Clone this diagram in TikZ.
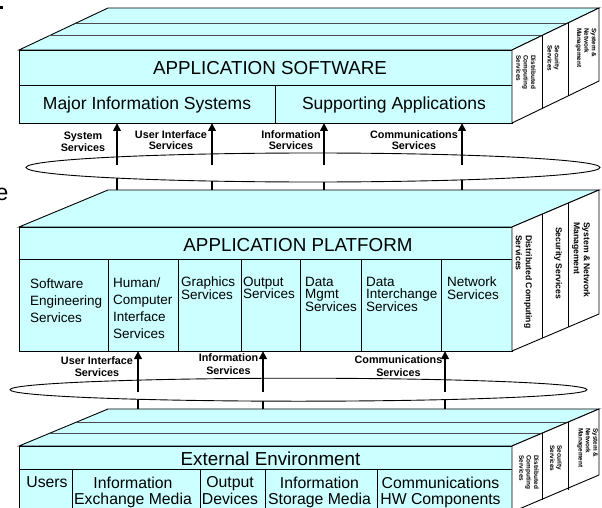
\documentclass[tikz,border=0pt]{standalone}
\usepackage{fontspec}
\setmainfont{Liberation Sans}
\usetikzlibrary{arrows.meta}
\definecolor{cy}{HTML}{CCFFFF}
\newcommand\fs[2]{\fontsize{#1}{#2}\selectfont\lineskiplimit=-20pt\relax}
\begin{document}
\begin{tikzpicture}[x=1pt,y=-1pt,
  face/.style={draw=black, fill=cy, line width=0.9pt},
  sidep/.style={draw=black, fill=white, line width=0.9pt},
  ln/.style={draw=black, line width=0.9pt},
  layer/.style={draw=black!70, line width=0.9pt},
  arr/.style={line width=2.6pt, -{Triangle[width=7.5pt,length=8pt]}},
  lbl/.style={font=\bfseries\fs{10.8}{11.3}, align=center, inner sep=0pt, anchor=north},
  lblb/.style={font=\bfseries\fs{10.8}{12.8}, align=center, inner sep=0pt, anchor=north},
  ttl/.style={font=\fs{18.8}{20}, inner sep=0pt},
  rowt/.style={font=\fs{17.5}{20}, inner sep=0pt, anchor=base},
  cell/.style={font=\fs{13.5}{16.7}, align=left, inner sep=0pt, anchor=north west},
  cellt/.style={font=\fs{13.5}{12.3}, align=left, inner sep=0pt, anchor=north west},
  ext/.style={font=\fs{15.8}{16.5}, align=center, inner sep=0pt, anchor=north},
  sidetxt/.style={font=\bfseries\fs{6.4}{7.3}, align=left, inner sep=0pt, rotate=-90, anchor=west},
  sidetxtm/.style={font=\bfseries\fs{8.6}{10}, align=left, inner sep=0pt, rotate=-90, anchor=west}
]
\useasboundingbox (0,0) rectangle (602,508);

% stray fragments at the left edge
\fill (0,6) rectangle (3.3,9.3);
\node[font=\fs{23}{25}, inner sep=0pt, anchor=base west] (frag) at (-4.5,200) {e};

% ---------------- APPLICATION SOFTWARE block ----------------
\draw[face] (19,50) -- (108,8) -- (599,8) -- (512,50) -- cycle;
\draw[layer] (75.6,23) -- (568,23);
\draw[layer] (49.3,35.5) -- (542,35.5);
\draw[face] (19,50) rectangle (512,123);
\draw[ln] (19,85) -- (512,85);
\draw[ln] (275,85) -- (275,123);
\draw[sidep] (512,50) -- (599,8) -- (599,81) -- (512,123) -- cycle;
\draw[ln] (542,35.5) -- (542,108.5);
\draw[ln] (568,23) -- (568,96);

\node[ttl] (tt) at (270,68.3) {APPLICATION SOFTWARE};
\node[rowt] (mis) at (147,110) {Major Information Systems};
\node[rowt] (sa) at (394,110) {Supporting Applications};
\node[sidetxt] (tsd) at (526,55) {Distributed\\Computing\\Services};
\node[sidetxt] (tss) at (553.5,45) {Security\\Services};
\node[sidetxt] (tsm) at (586,28) {System \&\\Network\\Management};

% ---------------- APPLICATION PLATFORM block ----------------
\draw[face] (19,227) -- (108,190) -- (599,190) -- (512,227) -- cycle;
\draw[face] (19,227) rectangle (512,351);
\draw[ln] (19,259) -- (512,259);
\foreach \xx in {108,178,241,300,361,441} \draw[ln] (\xx,259) -- (\xx,351);
\draw[sidep] (512,227) -- (599,190) -- (599,314) -- (512,351) -- cycle;
\draw[ln] (542,214.2) -- (542,338.2);
\draw[ln] (568,203.2) -- (568,327.2);

\node[ttl] (pt) at (298,245) {APPLICATION PLATFORM};
\node[cell] (c1) at (30,279) {Software\\Engineering\\Services};
\node[cell] (c2) at (113,278) {Human/\\Computer\\Interface\\Services};
\node[cellt] (c3) at (181,277) {Graphics\\Services};
\node[cellt] (c4) at (243,277) {Output\\Services};
\node[cellt] (c5) at (305,277) {Data\\Mgmt\\Services};
\node[cellt] (c6) at (366,277) {Data\\Interchange\\Services};
\node[cellt] (c7) at (447,277) {Network\\Services};
\node[sidetxtm] (msd) at (524,235) {Distributed Computing\\Services};
\node[sidetxtm] (mss) at (558,227) {Security Services};
\node[sidetxtm] (msm) at (581,222) {System \& Network\\Management};

% ---------------- External Environment block ----------------
\draw[face] (19,446) -- (108,409) -- (599,409) -- (512,446) -- cycle;
\draw[layer] (76.2,422.2) -- (568,422.2);
\draw[layer] (49.8,433.2) -- (542,433.2);
\draw[face] (19,446) rectangle (512,512);
\draw[ln] (19,469) -- (512,469);
\foreach \xx in {72,200,265,377} \draw[ln] (\xx,469) -- (\xx,512);
\draw[sidep] (512,446) -- (599,409) -- (599,475) -- (512,512) -- cycle;
\draw[ln] (542,433.2) -- (542,500);
\draw[ln] (568,422.2) -- (568,490);

\node[ttl, anchor=base] (ee) at (270.5,465) {External Environment};
\node[ext] (e1) at (47,476.4) {Users};
\node[ext] (e2) at (133,476.4) {Information\\Exchange Media};
\node[ext] (e3) at (230,476.4) {Output\\Devices};
\node[ext] (e4) at (319.5,476.4) {Information\\Storage Media};
\node[ext] (e5) at (440.5,476.4) {Communications\\HW Components};
\node[sidetxt] (bsd) at (529,455) {Distributed\\Computing\\Services};
\node[sidetxt] (bss) at (556,445) {Security\\Services};
\node[sidetxt] (bsm) at (587.5,428) {System \&\\Network\\Management};

% ---------------- upper arrows ----------------
\foreach \i/\xx in {1/117,2/212,3/324,4/462} {
  \coordinate (us\i) at (\xx,190);
  \coordinate (ue\i) at (\xx,123);
  \draw[arr] (us\i) -- (ue\i);
}
\begin{scope}
  \clip (0,165) rectangle (602,189);
  \fill[white] (313,167.5) ellipse [x radius=287pt, y radius=14.5pt];
\end{scope}
\draw[line width=0.9pt] (313,167.5) ellipse [x radius=287pt, y radius=14.5pt];

% ---------------- lower arrows ----------------
\foreach \i/\xx in {1/138,2/263,3/445} {
  \coordinate (ls\i) at (\xx,409);
  \coordinate (le\i) at (\xx,351);
  \draw[arr] (ls\i) -- (le\i);
}
\begin{scope}
  \clip (0,392) rectangle (602,408);
  \fill[white] (298.5,389.7) ellipse [x radius=288.5pt, y radius=11.5pt];
\end{scope}
\draw[line width=0.9pt] (298.5,389.7) ellipse [x radius=288.5pt, y radius=11.5pt];

% ---------------- arrow labels ----------------
\node[lbl] (l1) at (83,132) {System\\Services};
\node[lbl] (l2) at (171,130) {User Interface\\Services};
\node[lbl] (l3) at (291,130) {Information\\Services};
\node[lbl] (l4) at (414,130) {Communications\\Services};
\node[lblb] (l5) at (97,356) {User Interface\\Services};
\node[lblb] (l6) at (228.5,353.5) {Information\\Services};
\node[lblb] (l7) at (398.5,355.5) {Communications\\Services};
\end{tikzpicture}
\end{document}
